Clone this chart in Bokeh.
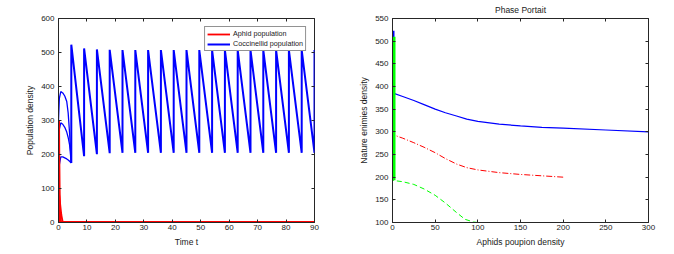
from bokeh.plotting import figure
from bokeh.layouts import row
from bokeh.models import (LinearAxis, FixedTicker, Range1d, Title, Legend,
                          LegendItem, CustomLabelingPolicy)
from bokeh.embed import file_html
from bokeh.resources import INLINE

FONT = "Liberation Sans"

# ---------------- data: time series (left panel) ----------------
# initial transients (three initial conditions) before first release
init_t = [0, 0.3, 0.8, 1.5, 2.2, 2.9, 3.4, 3.9, 4.5]
coc_a = [300, 365, 385, 381, 372, 356, 322, 262, 175]
coc_b = [200, 275, 293, 289, 280, 266, 250, 228, 175]
coc_c = [100, 170, 193, 193, 190, 187, 184, 180, 175]

# impulsive releases of coccinellids
release_t = [4.5, 9, 13.5, 18, 22.5, 27, 31.5, 36, 40.5, 45,
             49.5, 54, 58.5, 63, 67.5, 72, 76.5, 81, 85.5, 90]
before_release = [175, 195, 201, 204, 205, 205, 205, 205, 205, 205,
                  205, 205, 205, 205, 205, 205, 205, 205, 205, 205]
after_release = [523, 512, 509, 508, 507, 507, 507, 507, 507, 507,
                 507, 507, 507, 507, 507, 507, 507, 507, 507, 507]

# aphids
aph_a_t = [0, 0.08, 0.2, 0.35, 0.6, 90]
aph_a = [300, 200, 100, 30, 0, 0]
aph_b_t = [0, 0.12, 0.3, 0.5, 0.8, 90]
aph_b = [200, 120, 50, 15, 0, 0]
aph_c_t = [0, 0.5, 1.0, 1.5, 90]
aph_c = [100, 60, 22, 0, 0]

# ---------------- data: phase portrait (right panel) ----------------
ph_blue_x = [300, 250, 200, 175, 150, 125, 100, 87, 75, 62, 50, 37, 25, 12, 0]
ph_blue_y = [300, 304, 308, 310, 313, 317, 323, 328, 335, 342, 350, 360, 369, 378, 386]
ph_blue_v_x = [0, 0, 0, 0, 0]
ph_blue_v_y = [386, 205, 523, 205, 512]
ph_red_x = [200, 175, 150, 125, 100, 87, 75, 62, 50, 37, 25, 12, 0]
ph_red_y = [200, 203, 206, 210, 216, 221, 229, 241, 254, 266, 276, 286, 294]
ph_red_v_x = [0, 0, 0, 0]
ph_red_v_y = [294, 200, 510, 205]
ph_green_x = [100, 95, 85, 75, 62, 50, 37, 25, 12, 0]
ph_green_y = [100, 101, 107, 122, 143, 160, 174, 184, 190, 193]
ph_green_v_x = [0, 0, 0, 0]
ph_green_v_y = [193, 196, 510, 200]

left_xticks = [0, 10, 20, 30, 40, 50, 60, 70, 80, 90]
left_yticks = [0, 100, 200, 300, 400, 500, 600]
right_xticks = [0, 50, 100, 150, 200, 250, 300]
right_yticks = [100, 150, 200, 250, 300, 350, 400, 450, 500, 550]

BLUE = "#0000ff"
RED = "#ff0000"
GREEN = "#00ff00"
TXT = "#1a1a1a"
FRAME = "#262626"

NO_LABELS = CustomLabelingPolicy(code="return new Set()")


def mirror_axis(ticks):
    return LinearAxis(ticker=FixedTicker(ticks=ticks), major_label_policy=NO_LABELS,
                      major_label_text_font_size="1px", major_label_standoff=0,
                      axis_label_standoff=0,
                      major_tick_in=3, major_tick_out=0, minor_tick_line_color=None,
                      axis_line_color=None, major_tick_line_color=FRAME)


def style(p, xt, yt, xlabel, ylabel):
    p.xgrid.visible = False
    p.ygrid.visible = False
    p.outline_line_color = FRAME
    p.outline_line_width = 1
    p.background_fill_color = "white"
    p.border_fill_color = "white"
    for ax in p.xaxis:
        ax.ticker = FixedTicker(ticks=xt)
    for ax in p.yaxis:
        ax.ticker = FixedTicker(ticks=yt)
    for ax in list(p.xaxis) + list(p.yaxis):
        ax.major_tick_in = 3
        ax.major_tick_out = 0
        ax.minor_tick_line_color = None
        ax.axis_line_color = FRAME
        ax.major_tick_line_color = FRAME
        ax.major_label_text_font = FONT
        ax.major_label_text_font_size = "8px"
        ax.major_label_text_color = TXT
        ax.axis_label_text_font = FONT
        ax.axis_label_text_font_size = "8.5px"
        ax.axis_label_text_font_style = "normal"
        ax.axis_label_text_color = TXT
    p.xaxis.axis_label = xlabel
    p.yaxis.axis_label = ylabel
    p.xaxis.major_label_standoff = 2
    p.xaxis.axis_label_standoff = 4
    p.yaxis.major_label_standoff = 4
    p.yaxis.axis_label_standoff = 3
    p.add_layout(mirror_axis(xt), "above")
    p.add_layout(mirror_axis(yt), "right")


# ---------------- left figure ----------------
p1 = figure(width=340, height=254, output_backend="svg", toolbar_location=None,
            x_range=Range1d(0, 90), y_range=Range1d(0, 600),
            min_border_left=58, min_border_right=26, min_border_top=17, min_border_bottom=32)
style(p1, left_xticks, left_yticks, "Time t", "Population density")

saw_x, saw_y = [], []
for i, t in enumerate(release_t):
    saw_x += [t, t]
    saw_y += [before_release[i], after_release[i]]

p1.line(init_t, coc_b, line_color=BLUE, line_width=1.3)
p1.line(init_t, coc_c, line_color=BLUE, line_width=1.3)
p1.line(init_t, coc_a, line_color=BLUE, line_width=1.3)
r_blue = p1.line(saw_x, saw_y, line_color=BLUE, line_width=2)
r_red = p1.line(aph_b_t, aph_b, line_color=RED, line_width=1.8)
p1.line(aph_c_t, aph_c, line_color=RED, line_width=1.8)
p1.line(aph_a_t, aph_a, line_color=RED, line_width=3)

leg = Legend(items=[LegendItem(label="Aphid population", renderers=[r_red]),
                    LegendItem(label="Coccinellid population", renderers=[r_blue])],
             location="top_right")
leg.label_text_font = FONT
leg.label_text_font_size = "7.2px"
leg.label_text_color = TXT
leg.glyph_width = 23
leg.glyph_height = 8
leg.label_height = 8
leg.label_standoff = 3
leg.spacing = 1
leg.padding = 2
leg.margin = 8
leg.border_line_color = FRAME
leg.border_line_width = 1
leg.background_fill_alpha = 1
p1.add_layout(leg, "center")

# ---------------- right figure ----------------
p2 = figure(width=326, height=254, output_backend="svg", toolbar_location=None,
            x_range=Range1d(0, 300), y_range=Range1d(100, 550),
            min_border_left=52, min_border_right=18, min_border_top=18, min_border_bottom=31)
p2.title = Title(text="Phase Portait", align="center", text_font=FONT,
                 text_font_size="8.5px", text_font_style="normal", text_color=TXT,
                 standoff=0, offset=0)
style(p2, right_xticks, right_yticks, "Aphids poupion density", "Nature enimies density")

p2.line(ph_blue_x, ph_blue_y, line_color=BLUE, line_width=1.2)
p2.line(ph_blue_v_x, ph_blue_v_y, line_color=BLUE, line_width=4)
p2.line(ph_red_x, ph_red_y, line_color=RED, line_width=1, line_dash="6 2 1 2")
p2.line(ph_red_v_x, ph_red_v_y, line_color=RED, line_width=4, line_dash="6 2 1 2")
p2.line(ph_green_x, ph_green_y, line_color=GREEN, line_width=1, line_dash="5 3")
p2.line(ph_green_v_x, ph_green_v_y, line_color=GREEN, line_width=6)

layout = row(p1, p2)
open("out.html", "w").write(file_html(layout, INLINE))
